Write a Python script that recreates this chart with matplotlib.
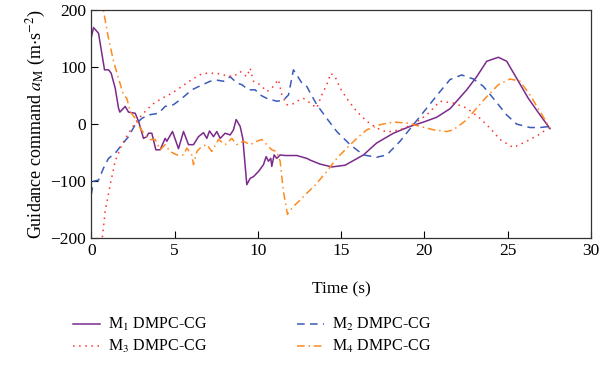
import matplotlib
matplotlib.use("Agg")
import matplotlib.pyplot as plt

plt.rcParams['font.family'] = ['Liberation Serif', 'DejaVu Serif']
plt.rcParams['mathtext.fontset'] = 'stix'

# M1 DMPC-CG
t1 = [0, 0.14, 0.44, 0.8, 1.04, 1.2, 1.44, 1.64, 1.72, 2.04, 2.24, 2.64, 2.84, 3.14, 3.34, 3.44, 3.64,
      3.88, 4.14, 4.44, 4.54, 4.88, 5.24, 5.54, 5.84, 6.14, 6.44, 6.74, 6.94, 7.1, 7.34, 7.54, 7.74,
      8.04, 8.34, 8.54, 8.7, 8.94, 9.1, 9.34, 9.54, 9.74, 10.04, 10.34, 10.5, 10.64, 10.78, 10.84,
      10.98, 11.14, 11.34, 11.64, 12.34, 12.94, 13.14, 13.74, 14.44, 15.24, 16.34, 17.14, 18.14,
      19.14, 19.94, 20.74, 21.54, 22.54, 23.14, 23.74, 24.44, 24.94, 25.54, 26.24, 26.94, 27.54]
v1 = [151, 169, 159, 95, 95, 89, 63, 28, 21, 31, 21, 19, 5, -25, -22, -16, -16,
      -45, -45, -25, -30, -13, -43, -13, -36, -36, -22, -15, -25, -12, -22, -13, -25,
      -16, -19, -10, 8, -4, -25, -106, -95, -92, -83, -71, -57, -65, -60, -74,
      -54, -60, -54, -55, -55, -60, -63, -70, -75, -72, -54, -33, -16,
      -4, 3.5, 12, 27, 60, 83, 110, 117, 110, 80, 45, 16, -8]

# M2 DMPC-CG
t2 = [0, 0.14, 0.44, 0.74, 1.04, 1.44, 1.84, 2.24, 2.64, 3.04, 3.44, 4.04, 4.44, 4.94, 5.44, 6.04,
      6.54, 7.14, 7.54, 7.94, 8.34, 8.74, 9.04, 9.44, 9.84, 10.14, 10.54, 11.14, 11.54, 11.84, 12.14,
      12.34, 12.64, 12.94, 13.14, 13.54, 14.14, 14.74, 15.54, 16.34, 17.14, 17.74, 18.54, 19.34,
      20.14, 20.94, 21.54, 22.24, 22.94, 23.54, 24.14, 24.94, 25.54, 26.34, 26.94, 27.54]
v2 = [-124, -100, -98, -77, -60, -51, -36, -22, -1, 10, 16, 19, 31, 34, 45, 60,
      67, 75, 77, 75, 83, 72, 69, 60, 60, 51, 45, 40, 42, 51, 95,
      86, 72, 66, 55, 34, 10, -13, -36, -54, -58, -54, -30, -1,
      28, 57, 78, 86, 79, 66, 45, 16, 0, -6, -6, -4]

# M3 DMPC-CG
t3 = [0.55, 0.84, 1.14, 1.44, 1.84, 2.24, 2.64, 3.04, 3.64, 4.24, 4.84, 5.44, 6.04, 6.64, 6.94,
      7.54, 7.94, 8.54, 8.94, 9.34, 9.54, 9.74, 10.14, 10.54, 10.84, 11.24, 11.44, 11.74, 12.04,
      12.34, 12.74, 13.14, 13.54, 13.84, 14.14, 14.38, 14.64, 14.94, 15.34, 15.94, 16.54, 17.14,
      17.74, 18.54, 19.34, 20.14, 20.94, 21.74, 22.54, 23.34, 23.94, 24.54, 25.34, 26.14, 26.84, 27.44]
v3 = [-230, -153, -106, -65, -36, -16, 2, 16, 34, 45, 54, 66, 78, 88, 89,
      89, 86, 83, 92, 83, 98, 75, 69, 57, 63, 78, 51, 34, 34,
      40, 45, 37, 28, 51, 69, 89, 83, 63, 45, 22, 5, -7,
      -14, -10, 0, 16, 40, 37, 28, 10, -7, -27, -41, -30, -19, -7]

# M4 DMPC-CG
t4 = [0.6, 1.04, 1.34, 1.64, 1.94, 2.14, 2.34, 2.64, 2.94, 3.24, 3.54, 3.84, 4.14, 4.44, 4.74,
      5.14, 5.54, 5.74, 6.04, 6.14, 6.34, 6.64, 6.94, 7.24, 7.64, 8.04, 8.44, 8.74, 9.14, 9.54,
      9.94, 10.24, 10.54, 10.84, 11.14, 11.34, 11.54, 11.78, 12.14, 12.54, 12.94, 13.44, 14.14,
      14.74, 15.34, 15.94, 16.54, 17.34, 18.14, 18.94, 19.74, 20.54, 21.34, 21.74, 22.54, 23.14,
      23.74, 24.44, 25.14, 25.74, 26.34, 26.94, 27.54]
v4 = [220, 150, 110, 80, 51, 45, 22, 10, -7, -19, -27, -27, -45, -36, -48,
      -54, -54, -42, -54, -71, -48, -39, -36, -48, -27, -36, -25, -36, -30, -36,
      -30, -27, -36, -45, -48, -65, -118, -158, -144, -133, -121, -107, -83,
      -60, -42, -25, -10, -1, 3.5, 2, -4, -10, -13, -10, 7.5, 28,
      48, 69, 79, 75, 51, 22, -7]

labels = [r"M$_1$ DMPC-CG", r"M$_2$ DMPC-CG", r"M$_3$ DMPC-CG", r"M$_4$ DMPC-CG"]
xticks = [0, 5, 10, 15, 20, 25, 30]
yticks = [-200, -100, 0, 100, 200]

fig = plt.figure(figsize=(6.0, 3.65), dpi=100)
ax = fig.add_axes([0.152, 0.347, 0.833, 0.626])

l1, = ax.plot(t1, v1, color='#7B2A8C', lw=1.1, ls='-')
l2, = ax.plot(t2, v2, color='#3B5BB8', lw=1.1, ls=(0, (5, 3.5)))
l3, = ax.plot(t3, v3, color='#FF3030', lw=1.1, ls=(0, (1, 3)))
l4, = ax.plot(t4, v4, color='#FF8A1E', lw=1.1, ls=(0, (5, 2.5, 1, 2.5)))

ax.set_xlim(0, 30)
ax.set_ylim(-200, 200)
ax.set_xticks(xticks)
ax.set_yticks(yticks)
ax.set_yticklabels(['\u2212200', '\u2212100', '0', '100', '200'])
ax.tick_params(direction='in', labelsize=12.5, length=5, width=0.8, top=False, right=False)
for s in ax.spines.values():
    s.set_linewidth(0.9)
    s.set_color('#333333')
ax.set_xlabel('Time (s)', fontsize=12.5, labelpad=16)
ax.set_ylabel(r'Guidance command $a_{\mathrm{M}}$ (m$\cdot$s$^{-2}$)', fontsize=13, labelpad=2)

handles = [l1, l3, l2, l4]
hlabels = [labels[0], labels[2], labels[1], labels[3]]
fig.legend(handles, hlabels, ncol=2, loc='center', bbox_to_anchor=(0.42, 0.08),
           frameon=False, fontsize=11.5, columnspacing=5.6, handlelength=1.7,
           handletextpad=0.5, labelspacing=0.3)

fig.savefig('out.png', dpi=100)
